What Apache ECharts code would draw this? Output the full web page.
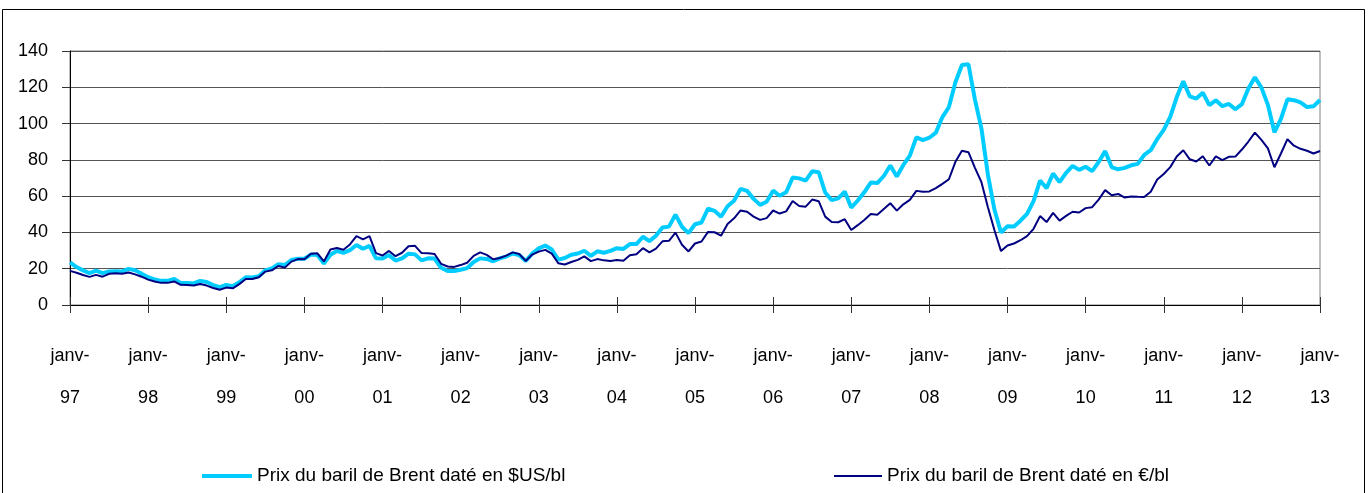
<!DOCTYPE html>
<html>
<head>
<meta charset="utf-8">
<script src="https://cdn.jsdelivr.net/npm/echarts@6/dist/echarts.min.js"></script>
<style>
  html, body { margin: 0; padding: 0; background: #fff; }
  #chart { width: 1371px; height: 493px; }
</style>
</head>
<body>
<div id="chart"></div>
<script>
// années affichées sous l'axe (un libellé par janvier)
const years = ['97', '98', '99', '00', '01', '02', '03', '04', '05', '06', '07', '08', '09', '10', '11', '12', '13'];

// Brent daté, moyenne mensuelle, $US/bl (janv-97 -> janv-13)
const brentUsd = [
  23.5, 20.9, 19.1, 17.6, 19.0, 17.6, 18.5, 18.6, 18.5, 19.9, 19.2, 17.2,
  15.3, 14.1, 13.3, 13.3, 14.4, 12.2, 12.1, 11.9, 13.3, 12.7, 11.0, 9.8,
  11.1, 10.3, 12.5, 15.3, 15.2, 15.9, 19.1, 20.2, 22.5, 22.0, 24.8, 25.5,
  25.5, 27.8, 27.5, 22.8, 27.7, 29.8, 28.7, 30.2, 33.1, 31.0, 32.6, 25.7,
  25.6, 27.5, 24.5, 25.7, 28.3, 27.9, 24.6, 25.7, 25.6, 20.5, 18.8, 18.7,
  19.4, 20.3, 23.7, 25.7, 25.4, 24.1, 25.7, 26.7, 28.4, 27.5, 24.3, 28.3,
  31.2, 32.8, 30.6, 25.0, 25.9, 27.7, 28.4, 29.9, 27.1, 29.6, 28.8, 29.8,
  31.3, 30.9, 33.6, 33.6, 37.6, 35.2, 38.2, 42.7, 43.2, 49.8, 43.1, 39.6,
  44.5, 45.5, 53.1, 51.9, 48.7, 54.4, 57.5, 64.0, 62.9, 58.5, 55.2, 56.9,
  63.0, 60.2, 62.1, 70.3, 69.8, 68.6, 73.7, 73.2, 62.0, 57.8, 58.8, 62.5,
  53.7, 57.6, 62.1, 67.5, 67.2, 71.1, 76.9, 70.8, 77.2, 82.3, 92.4, 90.9,
  92.2, 95.0, 103.6, 109.1, 122.8, 132.3, 132.7, 113.2, 97.2, 71.6, 52.5, 40.0,
  43.4, 43.3, 46.5, 50.2, 57.3, 68.6, 64.4, 72.5, 67.7, 72.8, 76.7, 74.5,
  76.2, 73.8, 78.8, 84.8, 76.0, 74.8, 75.6, 77.0, 77.8, 82.7, 85.3, 91.5,
  96.5, 103.7, 114.6, 123.3, 115.0, 113.8, 117.0, 110.2, 112.8, 109.6, 110.8, 107.9,
  110.7, 119.3, 125.5, 119.8, 110.3, 95.2, 102.6, 113.4, 112.9, 111.7, 109.1, 109.5,
  113.0
];

// Brent daté, moyenne mensuelle, €/bl
const brentEur = [
  18.8, 17.8, 16.5, 15.5, 16.6, 15.6, 17.2, 17.5, 17.2, 17.9, 16.9, 15.6,
  14.0, 13.0, 12.2, 12.2, 13.0, 11.1, 11.0, 10.7, 11.6, 10.7, 9.4, 8.4,
  9.6, 9.2, 11.5, 14.3, 14.3, 15.3, 18.4, 19.1, 21.5, 20.6, 23.9, 25.3,
  25.2, 28.3, 28.5, 24.0, 30.6, 31.4, 30.5, 33.4, 38.0, 36.2, 38.0, 28.6,
  27.3, 29.8, 26.9, 28.8, 32.4, 32.6, 28.6, 28.5, 28.1, 22.7, 21.2, 21.0,
  22.0, 23.3, 27.1, 29.0, 27.6, 25.2, 25.9, 27.2, 29.0, 28.1, 24.3, 27.8,
  29.4, 30.4, 28.3, 23.0, 22.3, 23.7, 24.9, 26.8, 24.2, 25.3, 24.6, 24.3,
  24.8, 24.4, 27.4, 28.0, 31.3, 29.0, 31.1, 35.1, 35.4, 39.9, 33.2, 29.5,
  33.9, 35.0, 40.3, 40.1, 38.2, 44.7, 47.8, 52.1, 51.4, 48.7, 46.9, 47.9,
  52.1, 50.4, 51.6, 57.3, 54.6, 54.2, 58.1, 57.2, 48.7, 45.8, 45.6, 47.3,
  41.3, 44.0, 46.9, 50.1, 49.7, 52.9, 56.1, 52.0, 55.5, 57.9, 62.9, 62.4,
  62.6, 64.4, 66.8, 69.3, 78.9, 85.0, 84.2, 75.6, 67.7, 53.7, 41.2, 29.7,
  32.8, 33.9, 35.7, 38.0, 42.0, 49.0, 45.7, 50.8, 46.5, 49.1, 51.4, 51.0,
  53.4, 53.9, 58.1, 63.3, 60.5, 61.2, 59.2, 59.8, 59.6, 59.5, 62.4, 69.2,
  72.2, 76.0, 81.9, 85.3, 80.3, 79.1, 82.0, 76.9, 81.9, 79.9, 81.7, 81.8,
  85.7, 90.1, 95.0, 91.0, 86.3, 75.9, 83.5, 91.4, 87.8, 86.1, 85.0, 83.5,
  84.9
];

const usdName = 'Prix du baril de Brent daté en $US/bl';
const eurName = 'Prix du baril de Brent daté en €/bl';

// une catégorie par mois ; seul janvier porte l'année
const months = [];
years.forEach((yy, i) => {
  const n = i === years.length - 1 ? 1 : 12;
  for (let m = 0; m < n; m++) months.push(m === 0 ? yy : yy + '-' + (m + 1));
});

const font = '"Liberation Sans", Arial, sans-serif';
const chart = echarts.init(document.getElementById('chart'), null, { renderer: 'canvas' });

chart.setOption({
  animation: false,
  backgroundColor: '#fff',
  textStyle: { fontFamily: font },
  graphic: [{
    type: 'rect',
    shape: { x: 2.5, y: 9.5, width: 1362, height: 500 },
    style: { fill: 'none', stroke: '#000', lineWidth: 1 },
    silent: true
  }],
  grid: [{
    left: 70, right: 51, top: 51, bottom: 188,
    show: true, borderColor: '#808080', borderWidth: 1
  }, {
    // bande fine juste au-dessus de l'axe, pour des graduations qui le traversent
    left: 70, right: 51, top: 289, height: 8
  }],
  legend: [{
    data: [usdName],
    left: 197, top: 460,
    icon: 'rect', itemWidth: 50, itemHeight: 4,
    textStyle: { fontSize: 19, color: '#000', fontFamily: font, lineHeight: 22 }
  }, {
    data: [eurName],
    left: 829, top: 460,
    icon: 'rect', itemWidth: 48, itemHeight: 2,
    textStyle: { fontSize: 19, color: '#000', fontFamily: font, lineHeight: 22 }
  }],
  xAxis: [{
    type: 'category',
    data: months,
    boundaryGap: false,
    axisLine: { lineStyle: { color: '#000', width: 1 } },
    axisTick: { show: false },
    axisLabel: {
      interval: 11,
      margin: 30,
      fontSize: 18,
      lineHeight: 42,
      color: '#000',
      fontFamily: font,
      formatter: v => 'janv-\n' + v
    },
    splitLine: { show: false }
  }, {
    type: 'category',
    gridIndex: 1,
    data: months,
    boundaryGap: false,
    position: 'bottom',
    axisLine: { show: true, onZero: false, lineStyle: { color: 'rgba(0,0,0,0)' } },
    axisTick: { show: true, interval: 11, length: 16, lineStyle: { color: '#333', width: 1 } },
    axisLabel: { show: false },
    splitLine: { show: false }
  }],
  yAxis: [{
    type: 'value',
    min: 0, max: 140, interval: 20,
    axisLine: { show: true, lineStyle: { color: '#000', width: 1 } },
    axisTick: { show: true, length: 8, lineStyle: { color: '#333' } },
    axisLabel: { margin: 22, fontSize: 18, color: '#000', fontFamily: font },
    splitLine: { lineStyle: { color: '#555', width: 1 } }
  }, {
    type: 'value',
    gridIndex: 1,
    min: 0, max: 1,
    axisLine: { show: false },
    axisTick: { show: false },
    axisLabel: { show: false },
    splitLine: { show: false }
  }],
  series: [{
    name: usdName,
    type: 'line',
    data: brentUsd,
    symbol: 'none',
    color: '#00CCFF',
    lineStyle: { width: 4, color: '#00CCFF' }
  }, {
    name: eurName,
    type: 'line',
    data: brentEur,
    symbol: 'none',
    color: '#000080',
    lineStyle: { width: 2, color: '#000080' }
  }, {
    type: 'line',
    xAxisIndex: 1,
    yAxisIndex: 1,
    data: [],
    silent: true
  }]
});
</script>
</body>
</html>
